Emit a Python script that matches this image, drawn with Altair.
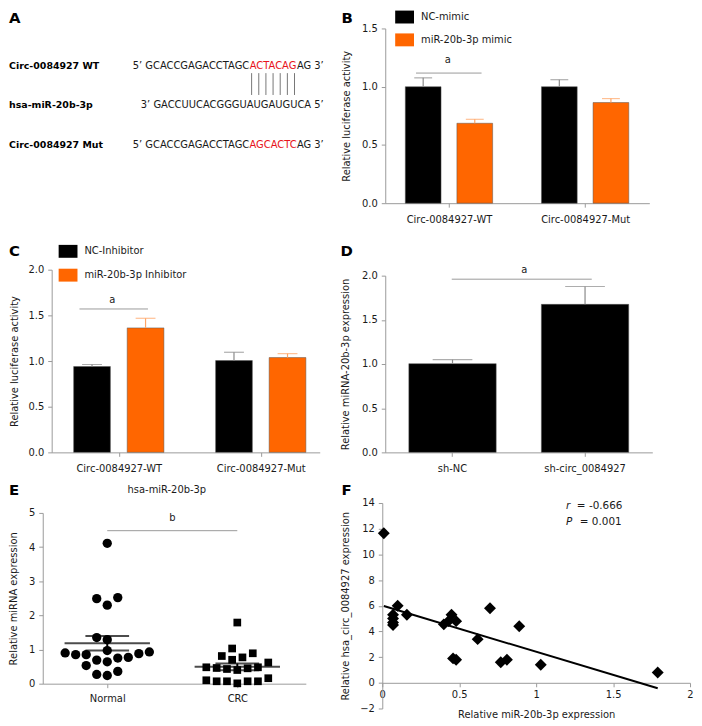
import altair as alt
import pandas as pd
import numpy as np

FONT = "DejaVu Sans"
INK = "#1a1a1a"
GRAY = "#9a9a9a"
BLACK = "#000000"
ORANGE = "#FF6600"
ERR_GRAY = "#8a8a8a"
ERR_ORANGE = "#FFA566"

# ---------------- data ----------------
# Panel A (sequence alignment)
a_labels = ["Circ-0084927 WT", "hsa-miR-20b-3p", "Circ-0084927 Mut"]
a_wt = ["5\u2019 GCACCGAGACCTAGC", "ACTACAG", "AG 3\u2019"]
a_mir = "3\u2019 GACCUUCACGGGUAUGAUGUCA 5\u2019"
a_mut = ["5\u2019 GCACCGAGACCTAGC", "AGCACTC", "AG 3\u2019"]
a_pairs = 7

# Panel B
b_groups = ["Circ-0084927-WT", "Circ-0084927-Mut"]
b_series = ["NC-mimic", "miR-20b-3p mimic"]
b_nc = [1.00, 1.00]
b_nc_err = [0.076, 0.060]
b_mimic = [0.686, 0.864]
b_mimic_err = [0.034, 0.034]

# Panel C
c_groups = ["Circ-0084927-WT", "Circ-0084927-Mut"]
c_series = ["NC-Inhibitor", "miR-20b-3p Inhibitor"]
c_nc = [0.94, 1.005]
c_nc_err = [0.022, 0.091]
c_inh = [1.363, 1.038]
c_inh_err = [0.105, 0.043]

# Panel D
d_groups = ["sh-NC", "sh-circ_0084927"]
d_vals = [1.004, 1.675]
d_errs = [0.045, 0.202]

# Panel E
e_groups = ["Normal", "CRC"]
e_normal = [4.11, 2.52, 2.49, 2.30, 1.35, 1.29, 0.97, 0.93, 0.90, 0.88,
            0.85, 0.85, 0.77, 0.75, 0.69, 0.64, 0.53, 0.36, 0.27, 0.24]
e_crc = [0.01, 0.07, 0.07, 0.07, 0.07, 0.10, 0.16, 0.40, 0.43, 0.45,
         0.46, 0.48, 0.48, 0.62, 0.70, 0.77, 0.81, 0.89, 1.03, 1.79]

# Panel F (x = miR-20b-3p in CRC, y = circ expression)
f_circ = [11.65, 5.3, 5.0, 4.7, 4.5, 6.0, 5.3, 4.55, 4.8, 5.3,
          1.9, 4.8, 1.8, 3.4, 5.8, 1.6, 1.8, 4.4, 1.4, 0.8]
f_r = "-0.666"
f_p = "0.001"

# ---------------- helpers ----------------
ONE = pd.DataFrame({"k": [0]})


def txt(s, x, y, size=10, weight="normal", style="normal", align="left",
        baseline="middle", color=INK):
    return alt.Chart(ONE).mark_text(
        text=s, font=FONT, fontSize=size, fontWeight=weight, fontStyle=style,
        align=align, baseline=baseline, color=color
    ).encode(x=alt.value(x), y=alt.value(y))


def letter(s, x, y):
    return txt(s, x, y, size=15, weight="bold", baseline="alphabetic", color=BLACK)


SYM = "M-1.46,-1L1.46,-1L1.46,1L-1.46,1Z"


def legend(x, y, rowpad):
    return alt.Legend(orient="none", legendX=x, legendY=y, title=None,
                      symbolType=SYM, symbolSize=169, symbolStrokeWidth=0,
                      labelFont=FONT, labelFontSize=10, labelColor=INK,
                      labelOffset=10, rowPadding=rowpad, padding=0,
                      direction="vertical")


def labexpr(names):
    return "[" + ",".join("'%s'" % n for n in names) + "][datum.value]"


def grouped_panel(groups, series, means, errs, colors, err_colors, w, h,
                  y_max, y_title, title_pad, left_px, step_px, sep_px, bar_w,
                  cap, leg, sig, let):
    rows = []
    half = (len(series) - 1) / 2
    for si, (s, ml, el) in enumerate(zip(series, means, errs)):
        for gi, (g, m, e) in enumerate(zip(groups, ml, el)):
            rows.append(dict(gi=gi, series=s, mean=m, upper=m + e,
                             xpos=gi + (si - half) * sep_px / step_px))
    df = pd.DataFrame(rows)
    xs = alt.Scale(domain=[-left_px / step_px, (w - left_px) / step_px],
                   nice=False, zero=False)
    xa = alt.Axis(values=list(range(len(groups))), labelExpr=labexpr(groups),
                  title=None, labelPadding=7)
    ys = alt.Scale(domain=[0, y_max], nice=False)
    ya = alt.Axis(values=list(np.arange(0, y_max + 0.01, 0.5)), format=".1f",
                  title=y_title, titlePadding=title_pad, labelPadding=4)
    xe = alt.X("xpos:Q", scale=xs, axis=xa)
    bars = alt.Chart(df).mark_bar(size=bar_w, stroke="#555", strokeWidth=0.5).encode(
        x=xe, y=alt.Y("mean:Q", scale=ys, axis=ya),
        color=alt.Color("series:N", sort=series,
                        scale=alt.Scale(domain=series, range=colors),
                        legend=legend(*leg)))
    layers = [bars]
    for s, ec in zip(series, err_colors):
        sub = alt.Chart(df).transform_filter(alt.datum.series == s)
        layers.append(sub.mark_rule(color=ec, strokeWidth=1.2).encode(
            x=xe, y=alt.Y("mean:Q", scale=ys, axis=ya), y2="upper:Q"))
        layers.append(sub.mark_tick(color=ec, orient="horizontal", size=cap,
                                    thickness=1.2).encode(
            x=xe, y=alt.Y("upper:Q", scale=ys, axis=ya)))
    (sx1, sx2, sy, tx, ty, stext) = sig
    layers.append(alt.Chart(ONE).mark_rule(color=GRAY, strokeWidth=1).encode(
        x=alt.value(sx1), x2=alt.value(sx2),
        y=alt.YDatum(sy, scale=ys, axis=ya)))
    layers.append(alt.Chart(ONE).mark_text(
        text=stext, font=FONT, fontSize=10, color=INK, baseline="middle").encode(
        x=alt.value(tx), y=alt.YDatum(ty, scale=ys, axis=ya)))
    layers.append(letter(*let))
    return alt.layer(*layers).properties(width=w, height=h)


# ---------------- Panel A ----------------
A_W, A_H = 270, 192
a_layers = []
row_y = [38, 77, 117]
for lab, yy in zip(a_labels, row_y):
    a_layers.append(txt(lab, -43, yy, size=9.5, weight="bold", color=BLACK))
for seq, yy in ((a_wt, row_y[0]), (a_mut, row_y[2])):
    a_layers.append(txt(seq[0], 199, yy, align="right"))
    a_layers.append(txt(seq[1], 223, yy, align="center", color="#E8131B"))
    a_layers.append(txt(seq[2], 247, yy, align="left"))
a_layers.append(txt(a_mir, 274, row_y[1], align="right"))
pairs_df = pd.DataFrame({"i": list(range(a_pairs))})
pairs_df["px"] = 223 + (pairs_df["i"] - (a_pairs - 1) / 2) * 7.2
a_layers.append(alt.Chart(pairs_df).mark_rule(color="#777", strokeWidth=1).encode(
    x=alt.X("px:Q", scale=alt.Scale(domain=[0, A_W], range=[0, A_W]), axis=None),
    y=alt.value(45), y2=alt.value(67)))
a_layers.append(letter("A", -43, -5))
panel_a = alt.layer(*a_layers).properties(width=A_W, height=A_H)

# ---------------- Panel B ----------------
panel_b = grouped_panel(
    b_groups, b_series, [b_nc, b_mimic], [b_nc_err, b_mimic_err],
    [BLACK, ORANGE], [ERR_GRAY, ERR_ORANGE], 266, 176, 1.5,
    "Relative luciferase activity", 10, 61.5, 142.5, 54, 36, 18,
    (13, -18, 10), (31, 97, 1.117, 63, 1.23, "a"), ("B", -44, -5))

# ---------------- Panel C ----------------
panel_c = grouped_panel(
    c_groups, c_series, [c_nc, c_inh], [c_nc_err, c_inh_err],
    [BLACK, ORANGE], [ERR_GRAY, ERR_ORANGE], 270, 184, 2.0,
    "Relative luciferase activity", 9, 65, 148.5, 56, 37, 20,
    (10, -25, 11), (28, 97, 1.57, 61, 1.67, "a"), ("C", -43, -14))

# ---------------- Panel D ----------------
D_W, D_H = 269, 184
ddf = pd.DataFrame({"group": d_groups, "mean": d_vals,
                    "upper": [v + e for v, e in zip(d_vals, d_errs)]})
d_ys = alt.Scale(domain=[0, 2.0], nice=False, range=[D_H, 6])
d_ya = alt.Axis(values=[0, 0.5, 1.0, 1.5, 2.0], format=".1f",
                title="Relative miRNA-20b-3p expression", titlePadding=11,
                labelPadding=4)
d_xe = alt.X("group:N", sort=d_groups,
             scale=alt.Scale(paddingInner=0.341, paddingOuter=0.178, align=0.5),
             axis=alt.Axis(title=None, labelAngle=0, labelPadding=7))
panel_d = alt.layer(
    alt.Chart(ddf).mark_bar(color=BLACK, stroke="#555", strokeWidth=0.5).encode(
        x=d_xe, y=alt.Y("mean:Q", scale=d_ys, axis=d_ya)),
    alt.Chart(ddf).mark_rule(color=ERR_GRAY, strokeWidth=1.2).encode(
        x=d_xe, y=alt.Y("mean:Q", scale=d_ys, axis=d_ya), y2="upper:Q"),
    alt.Chart(ddf).mark_tick(color=ERR_GRAY, orient="horizontal", size=40,
                             thickness=1.2).encode(
        x=d_xe, y=alt.Y("upper:Q", scale=d_ys, axis=d_ya)),
    alt.Chart(ONE).mark_rule(color=GRAY, strokeWidth=1).encode(
        x=alt.value(67), x2=alt.value(208), y=alt.YDatum(1.96, scale=d_ys, axis=d_ya)),
    alt.Chart(ONE).mark_text(text="a", font=FONT, fontSize=10, color=INK,
                             baseline="middle").encode(
        x=alt.value(140), y=alt.YDatum(2.06, scale=d_ys, axis=d_ya)),
    letter("D", -45, -14),
).properties(width=D_W, height=D_H)

# ---------------- Panel E ----------------
E_W, E_H = 256, 182
E_XDOM = [-0.496, 1.527]
E_XRANGE = [-9, E_W]
ppu_x = (E_XRANGE[1] - E_XRANGE[0]) / (E_XDOM[1] - E_XDOM[0])
ppu_y = (E_H - 10) / 5.0


def swarm(values, step, diam):
    order = sorted(range(len(values)), key=lambda i: values[i])
    placed, off = [], [0.0] * len(values)
    cands = [0]
    for j in range(1, 30):
        cands += [-j, j]
    for i in order:
        y = values[i] * ppu_y
        x = 0.0
        for c in cands:
            x = c * step
            if all((x - px) ** 2 + (y - py) ** 2 >= diam ** 2 - 1e-6 for px, py in placed):
                break
        placed.append((x, y))
        off[i] = x / ppu_x
    return off


n_off = swarm(e_normal, 5.3, 10.6)
c_off = swarm(e_crc, 5.2, 10.4)
edf = pd.DataFrame({
    "gi": [0] * len(e_normal) + [1] * len(e_crc),
    "y": e_normal + e_crc,
    "off": n_off + c_off,
})
edf["x"] = edf["gi"] + edf["off"]

e_xs = alt.Scale(domain=E_XDOM, range=E_XRANGE, nice=False, zero=False)
e_xa = alt.Axis(values=[0, 1], title=None, labelPadding=6,
                labelExpr=labexpr(e_groups))
e_ys = alt.Scale(domain=[0, 5], nice=False, range=[E_H, 10])
e_ya = alt.Axis(values=[0, 1, 2, 3, 4, 5], format="d", offset=9,
                title="Relative miRNA expression", titlePadding=10, labelPadding=4)


def ex(f="x"):
    return alt.X(f + ":Q", scale=e_xs, axis=e_xa)


def ey(f):
    return alt.Y(f + ":Q", scale=e_ys, axis=e_ya)


stats = alt.Chart(edf).transform_aggregate(
    m="mean(y)", se="stderr(y)", groupby=["gi"]
).transform_calculate(lo="datum.m - datum.se", hi="datum.m + datum.se",
                      x="datum.gi")
panel_e = alt.layer(
    alt.Chart(edf).transform_filter(alt.datum.gi == 0).mark_point(
        shape="circle", filled=True, size=88, color=BLACK, opacity=1).encode(
        x=ex(), y=ey("y")),
    alt.Chart(edf).transform_filter(alt.datum.gi == 1).mark_point(
        shape="square", filled=True, size=60, color=BLACK, opacity=1).encode(
        x=ex(), y=ey("y")),
    stats.mark_tick(orient="horizontal", size=86, thickness=2, color=BLACK).encode(
        x=ex(), y=ey("m")),
    stats.mark_rule(strokeWidth=2, color=BLACK).encode(x=ex(), y=ey("lo"), y2="hi:Q"),
    stats.mark_tick(orient="horizontal", size=44, thickness=2, color=BLACK).encode(
        x=ex(), y=ey("lo")),
    stats.mark_tick(orient="horizontal", size=44, thickness=2, color=BLACK).encode(
        x=ex(), y=ey("hi")),
    alt.Chart(ONE).mark_rule(color=GRAY, strokeWidth=1).encode(
        x=alt.XDatum(0, scale=e_xs, axis=e_xa), x2=alt.X2Datum(1),
        y=alt.YDatum(4.48, scale=e_ys, axis=e_ya)),
    alt.Chart(ONE).mark_text(text="b", font=FONT, fontSize=10, color=INK,
                             baseline="middle").encode(
        x=alt.XDatum(0.5, scale=e_xs, axis=e_xa),
        y=alt.YDatum(4.85, scale=e_ys, axis=e_ya)),
    txt("hsa-miR-20b-3p", 116, -13, align="center"),
    letter("E", -43, -8),
).properties(width=E_W, height=E_H)

# ---------------- Panel F ----------------
F_W, F_H = 307, 207
fdf = pd.DataFrame({"x": e_crc, "y": f_circ})
f_xs = alt.Scale(domain=[0, 2], nice=False, zero=False, range=[-3, F_W])
f_xa = alt.Axis(values=[0, 0.5, 1, 1.5, 2], format="~g", offset=-F_H * 2 / 16,
                title="Relative miR-20b-3p expression", titlePadding=10,
                labelPadding=3)
f_ys = alt.Scale(domain=[-2, 14], nice=False, zero=False)
f_ya = alt.Axis(values=list(range(-2, 15, 2)), format="d", offset=3,
                title="Relative hsa_circ_0084927 expression", titlePadding=9,
                labelPadding=4)
panel_f = alt.layer(
    alt.Chart(fdf).transform_regression("x", "y").mark_line(
        color=BLACK, strokeWidth=2).encode(
        x=alt.X("x:Q", scale=f_xs, axis=f_xa), y=alt.Y("y:Q", scale=f_ys, axis=f_ya)),
    alt.Chart(fdf).mark_point(shape="diamond", filled=True, size=144,
                              color=BLACK, opacity=1).encode(
        x=alt.X("x:Q", scale=f_xs, axis=f_xa), y=alt.Y("y:Q", scale=f_ys, axis=f_ya)),
    txt("r", 182, 3, size=10.5, style="italic"),
    txt("= " + f_r, 193, 3, size=10.5),
    txt("P", 182, 19, size=10.5, style="italic"),
    txt("= " + f_p, 196, 19, size=10.5),
    letter("F", -44, -8),
).properties(width=F_W, height=F_H)

# ---------------- layout ----------------
chart = alt.concat(
    panel_a, panel_b, panel_c, panel_d, panel_e, panel_f,
    columns=2, spacing={"row": 51, "column": 66}, bounds="flush", align="each",
).resolve_scale(color="independent").resolve_legend(color="independent").properties(
    padding=0
).configure_view(stroke=None).configure_axis(
    domainColor=GRAY, tickColor=GRAY, labelColor=INK, titleColor=INK,
    labelFont=FONT, titleFont=FONT, labelFontSize=10, titleFontSize=10,
    titleFontWeight="normal", grid=False, tickSize=4, labelFlush=False,
    labelOverlap=False
)

chart.save("out.html", embed_options={"renderer": "svg", "actions": False})
